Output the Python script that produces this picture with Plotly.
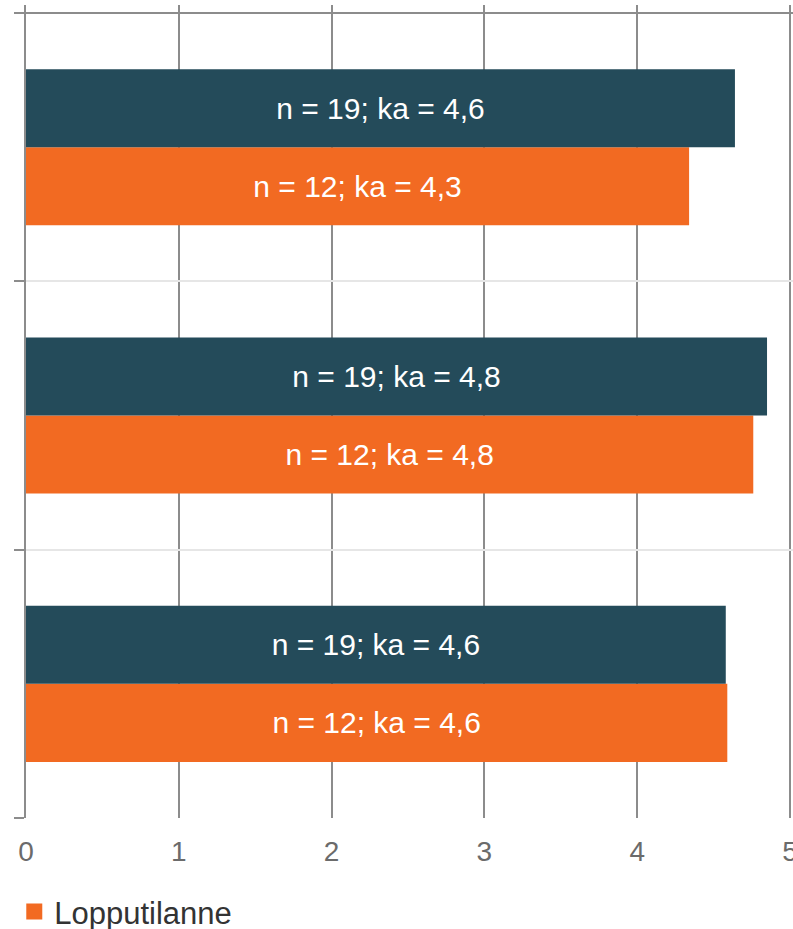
import plotly.graph_objects as go

# Data (top category first in list -> placed at top)
categories = ["Kysymys 1", "Kysymys 2", "Kysymys 3"]
alku_values = [4.64, 4.85, 4.58]
alku_labels = ["n = 19; ka = 4,6", "n = 19; ka = 4,8", "n = 19; ka = 4,6"]
loppu_values = [4.34, 4.76, 4.59]
loppu_labels = ["n = 12; ka = 4,3", "n = 12; ka = 4,8", "n = 12; ka = 4,6"]
x_ticks = [0, 1, 2, 3, 4, 5]

DARK = "#244b5a"
ORANGE = "#f26a22"
FONT = "Liberation Sans, Arial, sans-serif"

n = len(categories)
ypos = [n - 1 - i for i in range(n)]  # top category at highest y

fig = go.Figure()
fig.add_trace(go.Bar(
    y=ypos, x=loppu_values, orientation="h", name="Lopputilanne",
    marker=dict(color=ORANGE, line=dict(width=0)),
    text=loppu_labels, textposition="inside", insidetextanchor="middle",
    textfont=dict(color="white", size=30, family=FONT),
    showlegend=False, hoverinfo="skip",
))
fig.add_trace(go.Bar(
    y=ypos, x=alku_values, orientation="h", name="Alkutilanne",
    marker=dict(color=DARK, line=dict(width=0)),
    text=alku_labels, textposition="inside", insidetextanchor="middle",
    textfont=dict(color="white", size=30, family=FONT),
    showlegend=False, hoverinfo="skip",
))
fig.add_trace(go.Scatter(
    x=[None], y=[None], mode="markers", name="Lopputilanne",
    marker=dict(symbol="square", size=18, color=ORANGE, line=dict(width=0)),
    showlegend=True,
))

boundaries = [-0.5 + i for i in range(n + 1)]

fig.update_layout(
    width=793, height=929,
    margin=dict(l=26, r=0, t=5, b=111, autoexpand=False),
    plot_bgcolor="white", paper_bgcolor="white",
    barmode="group", bargap=0.418, bargroupgap=0,
    font=dict(family=FONT, color="#6b6b6b"),
    showlegend=True,
    legend=dict(orientation="h", x=0.018, xref="container", xanchor="left",
                y=0.0185, yref="container", yanchor="middle",
                font=dict(size=31, color="#333333"),
                itemwidth=30, bgcolor="rgba(0,0,0,0)"),
    xaxis=dict(range=[0, 5.02], tickvals=x_ticks, ticktext=[str(v) for v in x_ticks],
               showgrid=True, gridcolor="#8c8c8c", gridwidth=2,
               zeroline=False, showline=False, ticks="", automargin=False,
               ticklabelstandoff=14, ticklabeloverflow="allow",
               tickfont=dict(size=28, color="#6b6b6b"), fixedrange=True),
    yaxis=dict(range=[-0.5, 2.53], tickvals=boundaries, ticktext=[""] * len(boundaries),
               showgrid=True, gridcolor="#e6e6e6", gridwidth=2, automargin=False,
               zeroline=False, showline=True, linecolor="#8c8c8c", linewidth=2,
               ticks="outside", ticklen=10, tickwidth=2, tickcolor="#8c8c8c",
               fixedrange=True),
)
fig.add_shape(type="line", xref="paper", yref="y", x0=0, x1=1, y0=2.5, y1=2.5,
              line=dict(color="#8c8c8c", width=2), layer="above")

fig.write_html("out.html", config={"displayModeBar": False},
               post_script="document.body.style.margin='0';document.body.style.overflow='hidden';")
